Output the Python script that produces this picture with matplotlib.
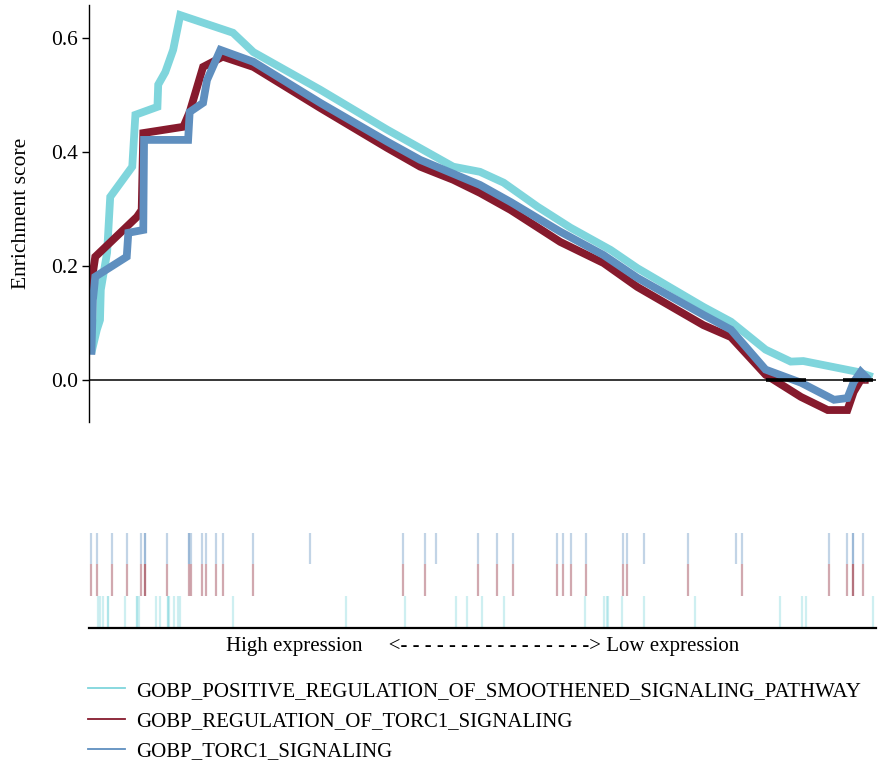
import matplotlib
matplotlib.use("Agg")
import matplotlib.pyplot as plt
from matplotlib.lines import Line2D

plt.rcParams["font.family"] = ["Liberation Serif", "DejaVu Serif"]

# gene sets shown
set_names = [
    "GOBP_POSITIVE_REGULATION_OF_SMOOTHENED_SIGNALING_PATHWAY",
    "GOBP_REGULATION_OF_TORC1_SIGNALING",
    "GOBP_TORC1_SIGNALING",
]
set_colors = ["#7fd5dc", "#861a2d", "#5f8fbf"]

# running enrichment score; x is the relative position in the ranked gene list
smo_x = [0.003, 0.010, 0.014, 0.015, 0.023, 0.027, 0.055, 0.059, 0.087, 0.088,
         0.097, 0.107, 0.116, 0.183, 0.209, 0.294, 0.379, 0.463, 0.497, 0.527,
         0.570, 0.612, 0.663, 0.697, 0.781, 0.816, 0.860, 0.892, 0.908, 0.977, 0.996]
smo_es = [0.047, 0.088, 0.105, 0.158, 0.223, 0.321, 0.374, 0.465, 0.479, 0.518,
          0.540, 0.579, 0.640, 0.609, 0.575, 0.509, 0.439, 0.374, 0.365, 0.346,
          0.304, 0.267, 0.228, 0.196, 0.128, 0.102, 0.053, 0.032, 0.033, 0.014, 0.005]

reg_x = [0.001, 0.003, 0.008, 0.061, 0.067, 0.069, 0.120, 0.128, 0.145, 0.170,
         0.209, 0.294, 0.379, 0.421, 0.463, 0.497, 0.536, 0.599, 0.654, 0.697,
         0.781, 0.816, 0.860, 0.905, 0.939, 0.964, 0.972, 0.981, 0.991]
reg_es = [0.140, 0.170, 0.216, 0.286, 0.298, 0.433, 0.444, 0.470, 0.549, 0.567,
          0.549, 0.477, 0.407, 0.374, 0.351, 0.328, 0.298, 0.242, 0.205, 0.163,
          0.096, 0.075, 0.009, -0.030, -0.053, -0.053, -0.021, 0.000, 0.000]

torc_x = [0.003, 0.005, 0.008, 0.048, 0.050, 0.069, 0.070, 0.126, 0.128, 0.145,
          0.150, 0.167, 0.209, 0.294, 0.379, 0.421, 0.497, 0.536, 0.599, 0.654,
          0.697, 0.781, 0.816, 0.860, 0.905, 0.947, 0.964, 0.972, 0.981, 0.991]
torc_es = [0.044, 0.140, 0.181, 0.216, 0.258, 0.263, 0.421, 0.421, 0.470, 0.486,
           0.526, 0.579, 0.558, 0.486, 0.418, 0.386, 0.342, 0.312, 0.260, 0.219,
           0.179, 0.114, 0.088, 0.018, -0.005, -0.035, -0.032, -0.004, 0.014, 0.000]

# positions of the set members in the ranked list
smo_hits = [0.011, 0.014, 0.018, 0.024, 0.024, 0.046, 0.061, 0.061, 0.063, 0.085,
            0.090, 0.100, 0.100, 0.102, 0.108, 0.113, 0.116, 0.183, 0.327, 0.402,
            0.466, 0.481, 0.499, 0.527, 0.630, 0.655, 0.658, 0.660, 0.678, 0.705,
            0.770, 0.878, 0.906, 0.912, 0.997]
reg_hits = [0.002, 0.010, 0.029, 0.048, 0.066, 0.071, 0.071, 0.099, 0.127, 0.130,
            0.144, 0.149, 0.162, 0.170, 0.209, 0.399, 0.427, 0.495, 0.519, 0.539,
            0.595, 0.602, 0.613, 0.632, 0.679, 0.684, 0.761, 0.830, 0.940, 0.963,
            0.971, 0.971, 0.984]
torc_hits = [0.002, 0.010, 0.029, 0.048, 0.066, 0.071, 0.071, 0.099, 0.127, 0.127,
             0.130, 0.144, 0.149, 0.162, 0.170, 0.209, 0.281, 0.399, 0.427, 0.441,
             0.495, 0.519, 0.539, 0.595, 0.602, 0.613, 0.632, 0.679, 0.684, 0.705,
             0.761, 0.822, 0.830, 0.940, 0.963, 0.971, 0.971, 0.984]

# short stretches of the baseline drawn heavier
zero_segments = [(0.860, 0.912), (0.958, 0.997)]

es_ticks = [0.0, 0.2, 0.4, 0.6]

fig = plt.figure(figsize=(8.81, 7.67), dpi=100)

# --- running score panel
ax = fig.add_axes([0.101, 0.450, 0.893, 0.5437])
for xs, ys, c in zip([smo_x, reg_x, torc_x], [smo_es, reg_es, torc_es], set_colors):
    ax.plot(xs, ys, color=c, lw=5.6, solid_joinstyle="miter", solid_capstyle="butt")
ax.axhline(0, color="black", lw=1.1, zorder=5)
for x0, x1 in zero_segments:
    ax.hlines(0, x0, x1, color="black", lw=2.6, zorder=6)
ax.set_xlim(0, 1.0)
ax.set_ylim(-0.0737, 0.658)
ax.set_yticks(es_ticks)
ax.set_yticklabels([f"{v:.1f}" for v in es_ticks], fontsize=15.5)
ax.set_xticks([])
ax.set_ylabel("Enrichment score", fontsize=15.5, labelpad=14)
for side in ["top", "right", "bottom"]:
    ax.spines[side].set_visible(False)
ax.spines["left"].set_linewidth(1.0)
ax.tick_params(axis="y", length=5, width=1.0, pad=3)

# --- hit positions, one row per set
rug = fig.add_axes([0.101, 0.181, 0.893, 0.128])
rows = [(smo_hits, 0), (reg_hits, 1), (torc_hits, 2)]
for (hits, row), c in zip(rows, set_colors):
    rug.vlines(hits, row, row + 1, color=c, lw=1.6, alpha=0.38)
rug.set_xlim(0, 1.0)
rug.set_ylim(0, 3.08)
rug.set_xticks([])
rug.set_yticks([])
for side in ["top", "right", "left"]:
    rug.spines[side].set_visible(False)
rug.spines["bottom"].set_linewidth(1.6)
rug.set_xlabel("High expression     <-" + " -" * 15 + "> Low expression",
               fontsize=15, labelpad=6)

handles = [Line2D([], [], color=c, lw=1.3) for c in set_colors]
fig.legend(handles, set_names, loc="upper left", bbox_to_anchor=(0.100, 0.112),
           frameon=False, fontsize=15, handlelength=1.75, handletextpad=0.55,
           labelspacing=0.52, borderpad=0, borderaxespad=0)

fig.savefig("out.png", dpi=100)
